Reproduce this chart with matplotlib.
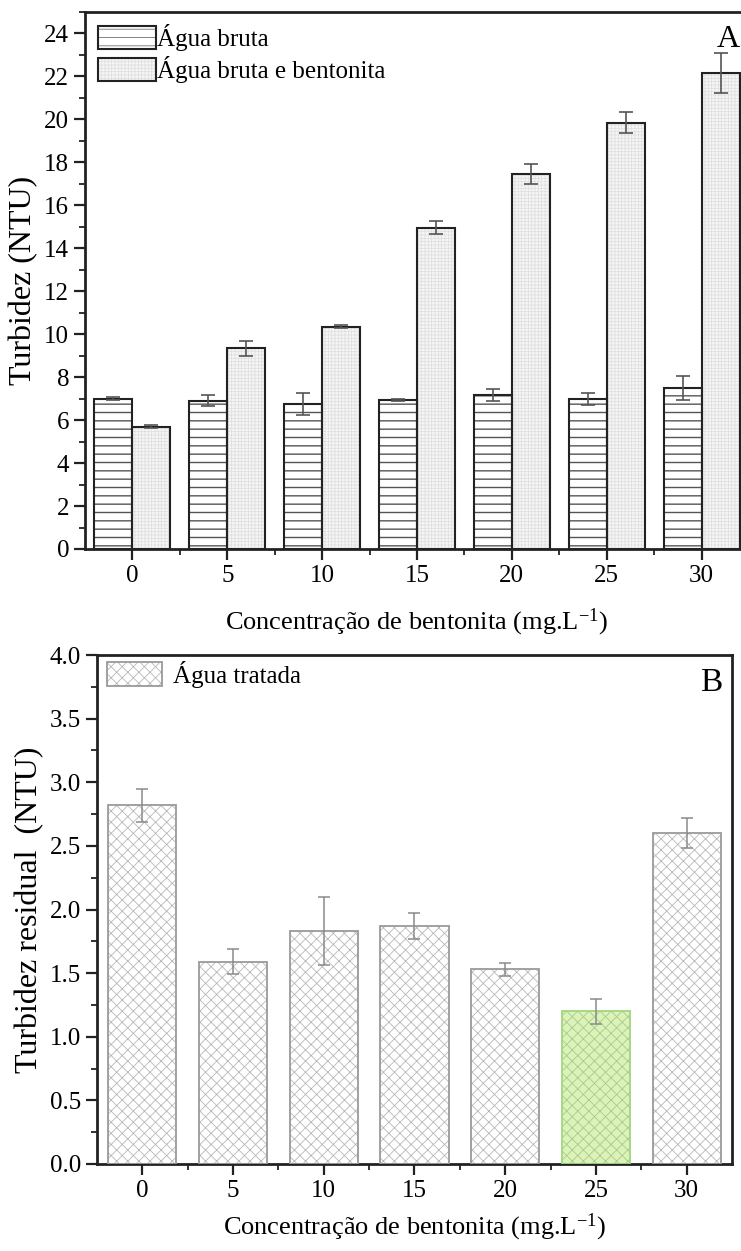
import numpy as np
import matplotlib.pyplot as plt
from matplotlib.ticker import MultipleLocator, FixedLocator

plt.rcParams['font.family'] = ['Liberation Serif', 'DejaVu Serif']
plt.rcParams['mathtext.fontset'] = 'custom'
plt.rcParams['mathtext.rm'] = 'Liberation Serif'
plt.rcParams['mathtext.default'] = 'regular'

conc = [0, 5, 10, 15, 20, 25, 30]

# A: turbidez da agua bruta, com e sem bentonita
bruta = [7.0, 6.9, 6.75, 6.95, 7.15, 7.0, 7.5]
bruta_err = [0.08, 0.25, 0.52, 0.05, 0.28, 0.28, 0.55]
bent = [5.7, 9.35, 10.35, 14.95, 17.45, 19.85, 22.15]
bent_err = [0.07, 0.35, 0.07, 0.30, 0.48, 0.48, 0.92]

# B: turbidez residual apos tratamento
tratada = [2.82, 1.59, 1.83, 1.87, 1.53, 1.20, 2.60]
tratada_err = [0.13, 0.10, 0.27, 0.10, 0.05, 0.10, 0.12]
destaque = 25

FS = 18
x = np.arange(len(conc))


def hatched_bars(ax, xs, h, width, face, hatch, hatch_col, edge, lw, align='center'):
    """hatch drawn in its own colour, outline drawn on top"""
    fills = ax.bar(xs, h, width, align=align, color=face, hatch=hatch,
                   edgecolor=hatch_col, linewidth=0, zorder=2)
    outl = ax.bar(xs, h, width, align=align, fill=False, edgecolor=edge,
                  linewidth=lw, zorder=3)
    return fills, outl


def style_axes(ax):
    for s in ax.spines.values():
        s.set_linewidth(2.0)
        s.set_color('#222222')
    ax.tick_params(which='major', direction='out', length=8, width=1.6,
                   labelsize=FS, color='#222222')
    ax.tick_params(which='minor', direction='out', length=4.5, width=1.3,
                   color='#222222')
    ax.tick_params(axis='y', which='both', right=False)
    ax.tick_params(axis='x', which='both', top=False)


fig = plt.figure(figsize=(7.41, 12.51), dpi=100)

# ---------- A ----------
axA = fig.add_axes([85 / 741, 1 - 549 / 1251, 664 / 741, 537 / 1251])
plt.rcParams['hatch.linewidth'] = 1.0
fa, oa = hatched_bars(axA, x, bruta, -0.4, 'white', '--', '#555555', '#222222', 1.5, align='edge')
plt.rcParams['hatch.linewidth'] = 0.5
fb, ob = hatched_bars(axA, x, bent, 0.4, '#f5f5f5', '+++++', '#dedede', '#222222', 1.5, align='edge')
axA.errorbar(x - 0.2, bruta, yerr=bruta_err, fmt='none', ecolor='#555555',
             elinewidth=1.2, capsize=5, capthick=1.2, zorder=4)
axA.errorbar(x + 0.2, bent, yerr=bent_err, fmt='none', ecolor='#555555',
             elinewidth=1.2, capsize=5, capthick=1.2, zorder=4)

axA.set_xlim(-0.5, 6.5)
axA.set_ylim(0, 25)
axA.set_xticks(x)
axA.set_xticklabels([str(c) for c in conc])
axA.xaxis.set_minor_locator(FixedLocator(x[:-1] + 0.5))
axA.yaxis.set_major_locator(MultipleLocator(2))
axA.yaxis.set_minor_locator(MultipleLocator(1))
style_axes(axA)
axA.spines['right'].set_visible(False)
axA.set_ylabel('Turbidez (NTU)', fontsize=23, labelpad=4)
axA.set_xlabel('Concentração de bentonita (mg.L$^{-1}$)', fontsize=19, labelpad=14)
axA.text(0.952, 0.975, 'A', transform=axA.transAxes, fontsize=23,
         ha='left', va='top')
axA.legend([(fa[0], oa[0]), (fb[0], ob[0])],
           ['Água bruta', 'Água bruta e bentonita'],
           loc='upper left', bbox_to_anchor=(-0.003, 1.006), frameon=False,
           fontsize=FS, handlelength=2.3, handleheight=1.05,
           handletextpad=0.05, labelspacing=0.2, borderaxespad=0.2)

# ---------- B ----------
axB = fig.add_axes([97 / 741, 1 - 1164 / 1251, 635 / 741, 509 / 1251])
plt.rcParams['hatch.linewidth'] = 0.6
cores = ['#dbf3b8' if c == destaque else 'white' for c in conc]
hcores = ['#a9c98f' if c == destaque else '#b8b8b8' for c in conc]
ecores = ['#a3d67e' if c == destaque else '#9a9a9a' for c in conc]
fills_B, outl_B = [], []
for xi, v, fc, hc, ec in zip(x, tratada, cores, hcores, ecores):
    f, o = hatched_bars(axB, [xi], [v], 0.75, fc, 'xxx', hc, ec, 1.3)
    fills_B.append(f[0])
    outl_B.append(o[0])
axB.errorbar(x, tratada, yerr=tratada_err, fmt='none', ecolor='#8a8a8a',
             elinewidth=1.1, capsize=4, capthick=1.1, zorder=4)

axB.set_xlim(-0.5, 6.5)
axB.set_ylim(0, 4)
axB.set_xticks(x)
axB.set_xticklabels([str(c) for c in conc])
axB.xaxis.set_minor_locator(FixedLocator(x[:-1] + 0.5))
axB.yaxis.set_major_locator(MultipleLocator(0.5))
axB.yaxis.set_minor_locator(MultipleLocator(0.25))
axB.yaxis.set_major_formatter(plt.FormatStrFormatter('%.1f'))
style_axes(axB)
axB.set_ylabel('Turbidez residual  (NTU)', fontsize=23, labelpad=4)
axB.set_xlabel('Concentração de bentonita (mg.L$^{-1}$)', fontsize=19, labelpad=7)
axB.text(0.985, 0.975, 'B', transform=axB.transAxes, fontsize=24,
         ha='right', va='top')
axB.legend([(fills_B[0], outl_B[0])], ['Água tratada'],
           loc='upper left', bbox_to_anchor=(-0.008, 1.018), frameon=False,
           fontsize=FS, handlelength=2.2, handleheight=1.1,
           handletextpad=0.45, borderaxespad=0.2)

fig.savefig('out.png', dpi=100)
